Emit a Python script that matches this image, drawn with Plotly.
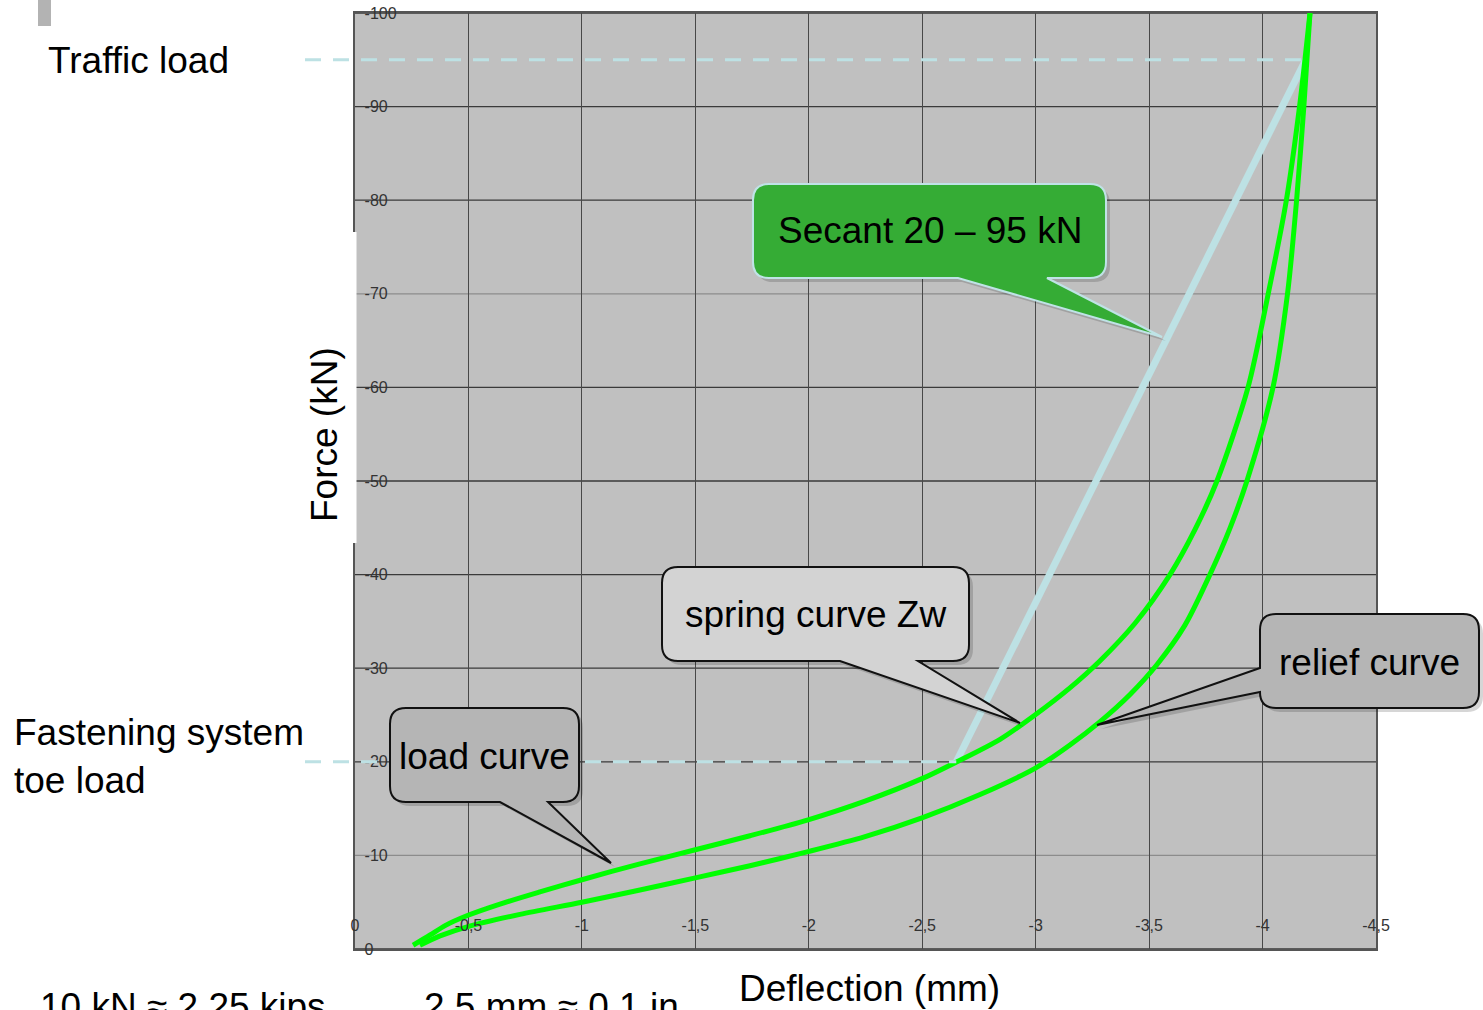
import plotly.graph_objects as go

# ---------------- data ----------------
load_x = [-0.256, -0.331, -0.397, -0.498, -0.639, -0.815, -1.0, -1.256, -1.5, -1.741,
          -1.997, -2.248, -2.499, -2.653, -2.843, -2.997, -3.151, -3.284, -3.438, -3.592,
          -3.702, -3.799, -3.936, -4.025, -4.105, -4.163, -4.209]
load_y = [-0.4, -1.5, -2.5, -3.6, -4.8, -6.1, -7.4, -9.1, -10.6, -12.1,
          -13.8, -15.8, -18.2, -20.0, -22.4, -25.0, -27.9, -30.8, -34.8, -40.0,
          -44.8, -50.0, -60.0, -70.0, -80.0, -90.0, -100.0]

relief_x = [-0.286, -0.375, -0.498, -0.727, -1.0, -1.256, -1.5, -1.741, -1.997, -2.248,
            -2.499, -2.755, -2.997, -3.151, -3.284, -3.416, -3.535, -3.658, -3.768, -3.857,
            -3.931, -4.046, -4.11, -4.150, -4.182, -4.209]
relief_y = [-0.4, -1.4, -2.4, -3.7, -5.0, -6.3, -7.6, -8.9, -10.4, -12.0,
            -14.0, -16.5, -19.3, -21.8, -24.3, -27.2, -30.4, -34.6, -40.0, -45.0,
            -50.0, -60.0, -70.0, -80.0, -90.0, -100.0]

secant_x = [-2.65, -4.19]
secant_y = [-20.0, -95.0]

traffic_load = -95.0
toe_load = -20.0

x_ticks = [0, -0.5, -1, -1.5, -2, -2.5, -3, -3.5, -4, -4.5]
x_tick_labels = ["0", "-0,5", "-1", "-1,5", "-2", "-2,5", "-3", "-3,5", "-4", "-4,5"]
y_ticks = [0, -10, -20, -30, -40, -50, -60, -70, -80, -90, -100]
y_tick_labels = ["0", "-10", "-20", "-30", "-40", "-50", "-60", "-70", "-80", "-90", "-100"]
light_grid = [-10, -70]

x_range = [0, -4.5]
y_range = [0, -100]

# ---------------- layout geometry ----------------
W, H = 1483, 1010
L, R, T, B = 355, 1376, 13, 949
FONT = "Arial, Liberation Sans, sans-serif"
NARROW = "Liberation Sans Narrow, Arial Narrow, Liberation Sans, sans-serif"


def px(x):
    return (x - L) / (R - L)


def py(y):
    return (B - y) / (B - T)


def dx(v):  # data x -> paper x
    return (v - x_range[0]) / (x_range[1] - x_range[0])


def bubble(x0, y0, x1, y1, r, tail, shift=0):
    """Rounded callout in pixel coords -> SVG path in paper coords."""
    edge, a, b, tip = tail
    s = shift
    x0, y0, x1, y1 = x0 + s, y0 + s, x1 + s, y1 + s
    tip = (tip[0] + s, tip[1] + s)

    def P(x, y):
        return f"{px(x):.5f},{py(y):.5f}"

    d = f"M{P(x0 + r, y0)} L{P(x1 - r, y0)} Q{P(x1, y0)} {P(x1, y0 + r)} "
    d += f"L{P(x1, y1 - r)} Q{P(x1, y1)} {P(x1 - r, y1)} "
    if edge == "bottom":
        d += f"L{P(b + s, y1)} L{P(*tip)} L{P(a + s, y1)} "
    d += f"L{P(x0 + r, y1)} Q{P(x0, y1)} {P(x0, y1 - r)} "
    if edge == "left":
        d += f"L{P(x0, b + s)} L{P(*tip)} L{P(x0, a + s)} "
    d += f"L{P(x0, y0 + r)} Q{P(x0, y0)} {P(x0 + r, y0)} Z"
    return d


fig = go.Figure()

fig.add_trace(go.Scatter(x=secant_x, y=secant_y, mode="lines",
                         line=dict(color="#bde1e4", width=7), hoverinfo="skip"))
fig.add_trace(go.Scatter(x=load_x, y=load_y, mode="lines", name="load curve",
                         line=dict(color="#00ff00", width=5, shape="spline", smoothing=0.8)))
fig.add_trace(go.Scatter(x=relief_x, y=relief_y, mode="lines", name="relief curve",
                         line=dict(color="#00ff00", width=5, shape="spline", smoothing=0.8)))

shapes = []
for v in y_ticks:
    shapes.append(dict(type="line", xref="paper", yref="y", x0=0, x1=1, y0=v, y1=v,
                       layer="below",
                       line=dict(color="#8c8c8c" if v in light_grid else "#3a3a3a", width=1.3)))

dash_col = "#bde1e4"
shapes.append(dict(type="line", xref="paper", yref="y", x0=px(305), x1=dx(secant_x[1]),
                   y0=traffic_load, y1=traffic_load,
                   line=dict(color=dash_col, width=3, dash="16px,12px")))
shapes.append(dict(type="line", xref="paper", yref="y", x0=px(305), x1=dx(secant_x[0]),
                   y0=toe_load, y1=toe_load,
                   line=dict(color=dash_col, width=3, dash="16px,12px")))

shapes.append(dict(type="rect", xref="paper", yref="paper", x0=px(296), x1=px(356.5),
                   y0=py(543), y1=py(232), fillcolor="white", line=dict(width=0)))
shapes.append(dict(type="rect", xref="paper", yref="paper", x0=px(38), x1=px(51),
                   y0=py(26), y1=py(-2), fillcolor="#b3b3b3", line=dict(width=0)))

callouts = [
    ((753, 184, 1106, 278), ("bottom", 958, 1047, (1162, 337)), "#35ac35", "#bfe3e6",
     "Secant 20 – 95 kN", (930, 231)),
    ((662, 567, 969, 661), ("bottom", 840, 918, (1020, 723)), "#d3d3d3", "#111111",
     "spring curve Zw", (815, 615)),
    ((390, 708, 579, 802), ("bottom", 500, 548, (611, 863)), "#b5b5b5", "#111111",
     "load curve", (484, 756)),
    ((1260, 614, 1479, 708), ("left", 668, 692, (1097, 725)), "#b5b5b5", "#111111",
     "relief curve", (1369, 662)),
]
for (x0, y0, x1, y1), tail, fill, border, _, _ in callouts:
    shapes.append(dict(type="path", xref="paper", yref="paper",
                       path=bubble(x0, y0, x1, y1, 16, tail, shift=4),
                       fillcolor="rgba(0,0,0,0.16)", line=dict(width=0)))
    shapes.append(dict(type="path", xref="paper", yref="paper",
                       path=bubble(x0, y0, x1, y1, 16, tail),
                       fillcolor=fill, line=dict(color=border, width=2)))

annotations = []
for _, _, _, _, text, (cx, cy) in callouts:
    annotations.append(dict(xref="paper", yref="paper", x=px(cx), y=py(cy), text=text,
                            showarrow=False, xanchor="center", yanchor="middle",
                            font=dict(family=FONT, size=37, color="black")))

texts = [
    ("Traffic load", 46, 60, "left"),
    ("Fastening system<br>toe load", 12, 756, "left"),
    ("Deflection (mm)", 869, 988, "center"),
    ("10 kN ≈ 2.25 kips", 38, 1006, "left"),
    ("2.5 mm ≈ 0.1 in", 422, 1006, "left"),
]
for text, x, y, anchor in texts:
    annotations.append(dict(xref="paper", yref="paper", x=px(x), y=py(y), text=text,
                            showarrow=False, xanchor=anchor, yanchor="middle", align="left",
                            font=dict(family=FONT, size=37, color="black")))
annotations.append(dict(xref="paper", yref="paper", x=px(325), y=py(435), text="Force (kN)",
                        textangle=-90, showarrow=False, xanchor="center", yanchor="middle",
                        font=dict(family=FONT, size=37, color="black")))

fig.update_layout(
    width=W, height=H,
    margin=dict(l=L, r=W - R, t=T, b=H - B, pad=0, autoexpand=False),
    paper_bgcolor="white", plot_bgcolor="#c0c0c0",
    showlegend=False,
    shapes=shapes, annotations=annotations,
    font=dict(family=FONT),
)
fig.update_xaxes(range=x_range, tickvals=x_ticks, ticktext=x_tick_labels,
                 ticklabelposition="inside", ticklabeloverflow="allow", ticks="",
                 ticklabelstandoff=15, automargin=False,
                 tickfont=dict(family=NARROW, size=16, color="#333333"),
                 showgrid=True, gridcolor="#484848", gridwidth=1.3, zeroline=False,
                 showline=True, linecolor="#555555", linewidth=1.5, mirror=True)
fig.update_yaxes(range=y_range, tickvals=y_ticks, ticktext=y_tick_labels,
                 ticklabelposition="inside", ticklabeloverflow="allow", ticks="",
                 ticklabelstandoff=10, automargin=False,
                 tickfont=dict(family=NARROW, size=16, color="#333333"),
                 showgrid=False, zeroline=False,
                 showline=True, linecolor="#555555", linewidth=1.5, mirror=True)

fig.write_html("out.html")
